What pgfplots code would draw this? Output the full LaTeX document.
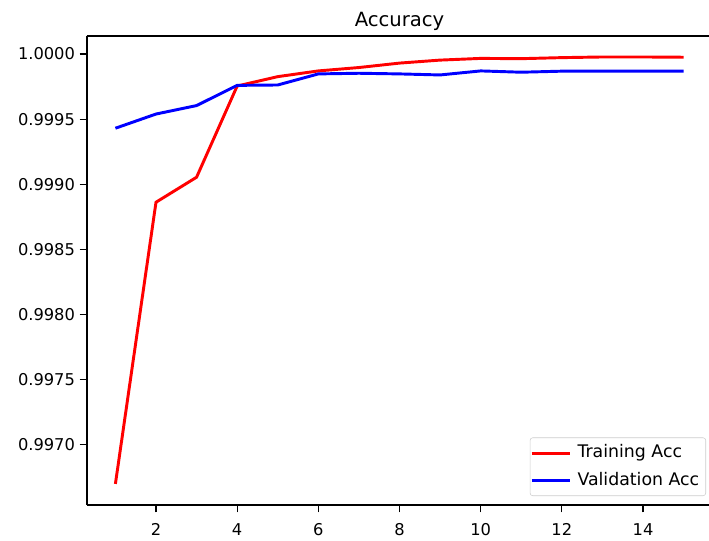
\documentclass[border=0pt]{standalone}
\usepackage{pgfplots}
\pgfplotsset{compat=1.18}
\usepackage{fontspec}
\setmainfont{DejaVu Sans}
\definecolor{mplred}{RGB}{255,0,0}
\definecolor{mplblue}{RGB}{0,0,255}
\begin{document}
\begin{tikzpicture}
\begin{axis}[
  at={(0,0)}, anchor=south west,
  scale only axis,
  width=468.75pt, height=351.75pt,
  xmin=0.3, xmax=15.7,
  ymin=0.996538, ymax=1.000138,
  axis x line*=bottom, axis y line*=left,
  extra description/.code={\draw[black, line width=0.8pt] (-0.0008,1) -- (1,1);},
  xtick={2,4,6,8,10,12,14},
  ytick={0.9970,0.9975,0.9980,0.9985,0.9990,0.9995,1.0000},
  scaled y ticks=false,
  scaled x ticks=false,
  yticklabel style={/pgf/number format/.cd,fixed,fixed zerofill,precision=4},
  xticklabel style={yshift=-4.8pt},
  /pgf/number format/assume math mode=true,
  tick label style={font=\fontsize{12.2pt}{14pt}\selectfont, black},
  tick align=outside,
  major tick length=5.5pt,
  tick style={black, line width=0.8pt},
  xtick pos=bottom, ytick pos=left,
  axis line style={black, line width=0.8pt},
  title={Accuracy},
  title style={font=\fontsize{14.7pt}{17pt}\selectfont, at={(0.5,1)}, anchor=base, yshift=0.75pt},
  legend style={
    at={(1,0)}, anchor=south east, xshift=-4.5pt, yshift=6.75pt,
    draw=black!20, rounded corners=2pt, fill=white,
    font=\fontsize{13pt}{15pt}\selectfont,
    inner xsep=0pt, inner ysep=5.5pt,
    row sep=8.5pt,
    nodes={inner xsep=4.875pt, inner ysep=0pt, text height=9.5pt, text depth=2.5pt},
    legend cell align=left,
  },
  legend image code/.code={\draw[#1, line width=2.2pt] (0pt,0pt) -- (28.5pt,0pt);},
]
\addplot[mplred, line width=2.2pt] coordinates {
  (1,0.996700) (2,0.998862) (3,0.999054) (4,0.999754) (5,0.999826)
  (6,0.999870) (7,0.999896) (8,0.999930) (9,0.999953) (10,0.999966)
  (11,0.999964) (12,0.999972) (13,0.999977) (14,0.999977) (15,0.999975)
};
\addlegendentry{Training Acc}
\addplot[mplblue, line width=2.2pt] coordinates {
  (1,0.999430) (2,0.999539) (3,0.999604) (4,0.999759) (5,0.999762)
  (6,0.999847) (7,0.999852) (8,0.999847) (9,0.999839) (10,0.999870)
  (11,0.999860) (12,0.999868) (13,0.999868) (14,0.999868) (15,0.999868)
};
\addlegendentry{Validation Acc}
\end{axis}
\pgfresetboundingbox
\useasboundingbox (-65.25pt,-26.25pt) rectangle (466.5pt,378.75pt);
\end{tikzpicture}
\end{document}
